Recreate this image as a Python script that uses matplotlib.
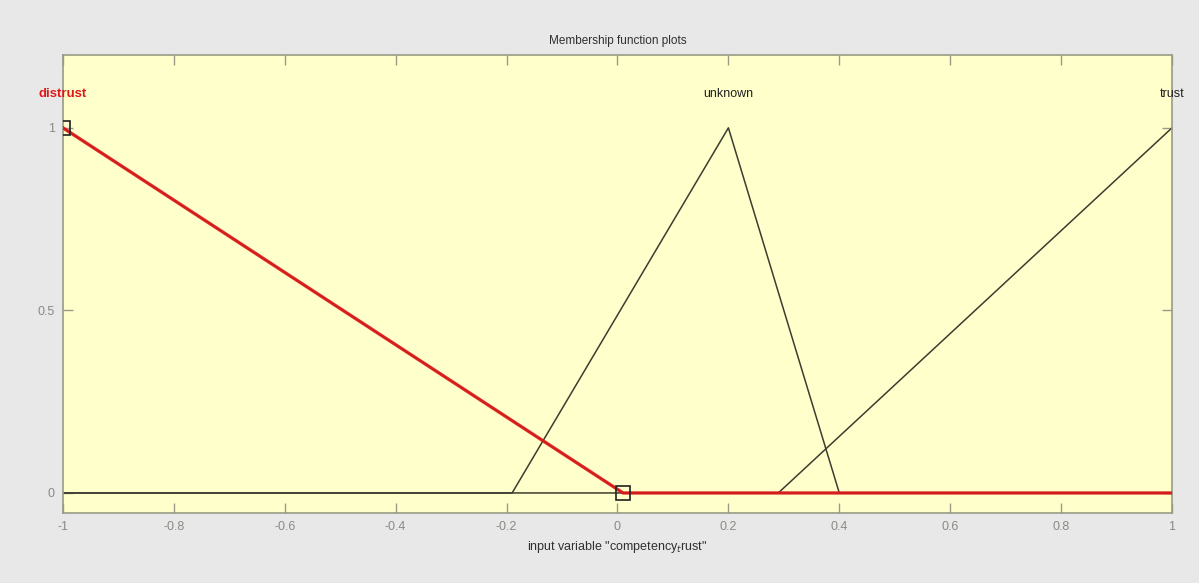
import numpy as np
import matplotlib
matplotlib.use("Agg")
import matplotlib.pyplot as plt

plt.rcParams['font.family'] = ['Liberation Sans', 'DejaVu Sans']

# Universe of discourse and triangular membership function parameters
x_range = [-1.0, 1.0]
mf_names = ["distrust", "unknown", "trust"]
mf_params = [
    [-1.0, -1.0, 0.01],  # distrust
    [-0.19, 0.2, 0.4],   # unknown
    [0.29, 1.0, 1.0],    # trust
]
selected = "distrust"
xticks = [-1, -0.8, -0.6, -0.4, -0.2, 0, 0.2, 0.4, 0.6, 0.8, 1]
yticks = [0, 0.5, 1]
title = "Membership function plots"
xlabel = 'input variable "competency$_{t}$rust"'


def trimf(x, a, b, c):
    y = np.zeros_like(x)
    if b > a:
        m = (x >= a) & (x <= b)
        y[m] = (x[m] - a) / (b - a)
    else:
        y[x == a] = 1.0
    if c > b:
        m = (x >= b) & (x <= c)
        y[m] = (c - x[m]) / (c - b)
    else:
        y[x == c] = 1.0
    return y


x = np.linspace(x_range[0], x_range[1], 4001)

fig = plt.figure(figsize=(11.99, 5.83), dpi=100, facecolor="#e8e8e8")
ax = fig.add_axes([0.0525, 0.120, 0.925, 0.786], facecolor="#ffffcc")

tick_col = "#8a8a84"
line_col = "#3c3c30"

for name, (a, b, c) in zip(mf_names, mf_params):
    if name == selected:
        continue
    ax.plot(x, trimf(x, a, b, c), color=line_col, lw=1.1, zorder=2)

# highlighted membership function
a, b, c = mf_params[mf_names.index(selected)]
ax.plot(x, trimf(x, a, b, c), color=line_col, lw=1.1, zorder=2)
ax.plot(x, trimf(x, a, b, c), color="#e01818", lw=2.4, alpha=0.9, zorder=3)
ax.plot([b, c], [1, 0], ls="none", marker="s", ms=10, mfc="none",
        mec="#202020", mew=1.2, zorder=4)

for name, (a, b, c) in zip(mf_names, mf_params):
    is_sel = name == selected
    ax.text(b, 1.092, name, ha="center", va="center",
            fontsize=9.5 if is_sel else 9,
            color="#e01818" if is_sel else "#202020",
            fontweight="bold" if is_sel else "normal", clip_on=False)

ax.set_xlim(x_range)
ax.set_ylim(-0.055, 1.2)
ax.set_xticks(xticks)
ax.set_xticklabels([f"{t:g}" for t in xticks])
ax.set_yticks(yticks)
ax.set_yticklabels([f"{t:g}" for t in yticks])
ax.tick_params(direction="in", top=True, right=True, length=7.5, width=1,
               color="#9a9a88", labelcolor=tick_col, labelsize=9, pad=6)
for s in ax.spines.values():
    s.set_color("#9a9a88")
    s.set_linewidth(1.2)

ax.set_xlabel(xlabel, fontsize=9, color="#303030", labelpad=4)
ax.set_title(title, fontsize=8.5, color="#303030", pad=8)

fig.savefig("out.png", dpi=100, facecolor=fig.get_facecolor())
